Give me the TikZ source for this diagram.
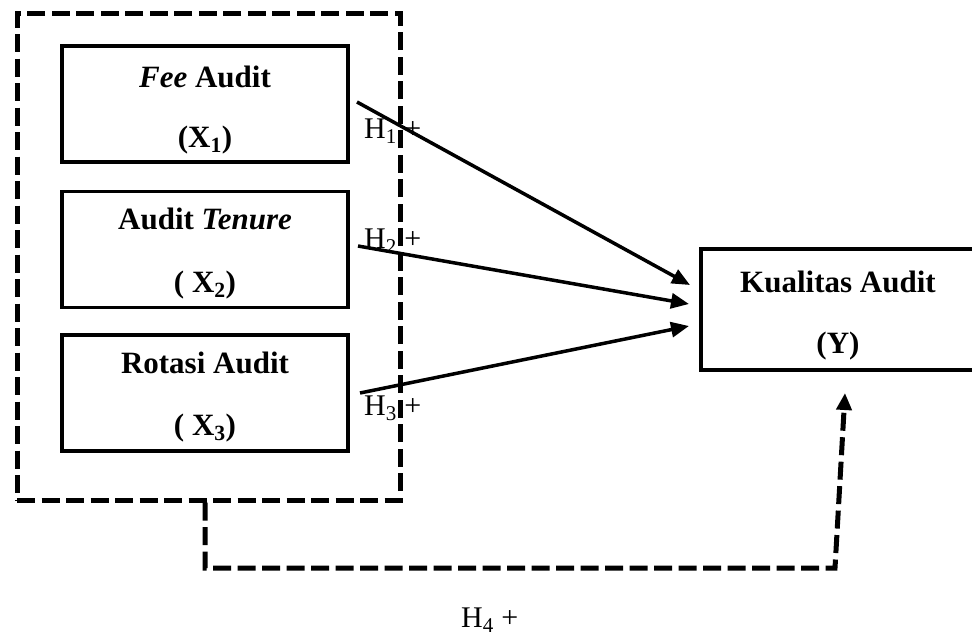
\documentclass[tikz,border=0pt]{standalone}
\usepackage{fontspec}
\setmainfont{Liberation Serif}
\usetikzlibrary{arrows.meta}
\begin{document}
\begin{tikzpicture}[x=1pt,y=-1pt,
  varbox/.style={draw,line width=3.5pt,minimum width=286pt,minimum height=116pt,inner sep=0pt},
  txt/.style={font=\fontsize{31}{37}\selectfont\bfseries,inner sep=0pt,anchor=base},
  hlab/.style={font=\fontsize{30}{36}\selectfont,inner sep=0pt,anchor=base west},
  grpbox/.style={draw,line width=5pt,dash pattern=on 18pt off 6.5pt,inner sep=0pt},
  arr/.style={line width=3.5pt,-{Triangle[length=18pt,width=15pt]}},
  darr/.style={line width=5pt,dash pattern=on 18pt off 6.5pt,-{Triangle[length=17pt,width=15pt]}}]
\useasboundingbox (0,0) rectangle (972,637);
% outer dashed group
\node[grpbox,minimum width=383pt,minimum height=487pt] (grp) at (208.5,256.5) {};
% variable boxes
\node[varbox] (x1) at (205,104) {};
\node[varbox] (x2) at (205,249.5) {};
\node[varbox] (x3) at (205,393) {};
\node[draw,line width=3.5pt,minimum width=290pt,minimum height=121pt,inner sep=0pt] (y) at (846,309.5) {};
% texts
\node[txt] (t1a) at (205,87) {\textit{Fee} Audit};
\node[txt] (t1b) at (205,147) {(X\textsubscript{1})};
\node[txt] (t2a) at (205,229) {Audit \textit{Tenure}};
\node[txt] (t2b) at (205,292) {( X\textsubscript{2})};
\node[txt] (t3a) at (205,373) {Rotasi Audit};
\node[txt] (t3b) at (205,435) {( X\textsubscript{3})};
\node[txt] (tya) at (838,292) {Kualitas Audit};
\node[txt] (tyb) at (838,353) {(Y)};
% hypothesis labels
\node[hlab] (h1) at (364,138) {H\textsubscript{1} +};
\node[hlab] (h2) at (364,248) {H\textsubscript{2} +};
\node[hlab] (h3) at (364,415) {H\textsubscript{3} +};
\node[hlab] (h4) at (461,627) {H\textsubscript{4} +};
% arrow coordinates
\coordinate (s1) at (357,102);
\coordinate (s2) at (358,246);
\coordinate (s3) at (360,393);
\coordinate (e1) at (690,285);
\coordinate (e2) at (689,304);
\coordinate (e3) at (689,326);
\draw[arr] (s1) -- (e1);
\draw[arr] (s2) -- (e2);
\draw[arr] (s3) -- (e3);
% H4 dashed connector
\coordinate (d1) at (205,568);
\coordinate (d2) at (835,568);
\coordinate (e4) at (845,393);
\draw[darr] (grp.south -| d1) -- (d1) -- (d2) -- (e4);
\end{tikzpicture}
\end{document}
